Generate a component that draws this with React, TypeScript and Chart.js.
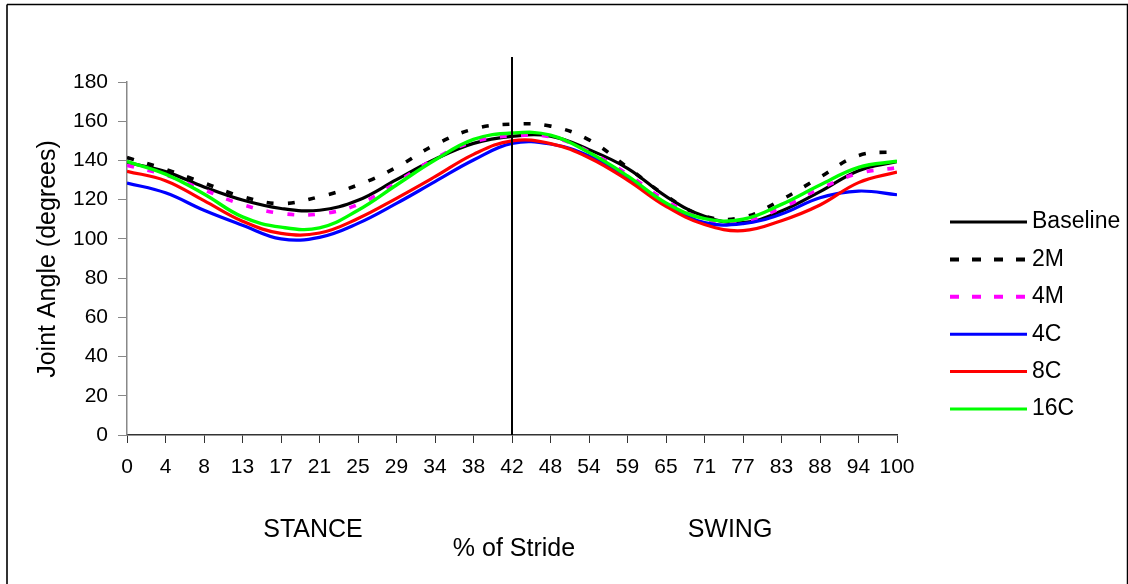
import React, { useEffect, useRef } from "react";
import { Chart, registerables } from "chart.js";

Chart.register(...registerables);

// Stride samples: index 0..100 along the stride, stance = first 50 samples, swing = last 50.
const sampleIndex = [0, 5, 10, 15, 20, 25, 30, 35, 40, 45, 50, 55, 60, 65, 70, 75, 80, 85, 90, 95, 100];
// % of stride shown under every fifth sample
const strideTickLabels = ["0", "4", "8", "13", "17", "21", "25", "29", "34", "38", "42", "48", "54", "59", "65", "71", "77", "83", "88", "94", "100"];
const toeOffIndex = 50;

const baseline = [139, 134.3, 126.5, 119.8, 115.5, 114.6, 119.7, 130.2, 140.6, 148.7, 152.3, 152.4, 145.5, 136, 121.7, 111.5, 108.3, 114.2, 124.1, 134.8, 139.4];
const m2 = [141.5, 135.5, 128.5, 121.5, 118, 121.5, 127.5, 136.5, 148, 156, 158.5, 157.5, 150.5, 136.5, 122, 111.5, 111, 120, 131.5, 142.5, 144.5];
const m4 = [137.5, 132.5, 125, 117.5, 113, 112.7, 117.5, 128.8, 141, 149.5, 152.5, 152, 144.5, 133, 119.5, 110, 109, 115.8, 125.6, 133.4, 136.3];
const c4 = [128.5, 123.5, 114.6, 107, 100, 100.8, 107.9, 118.1, 129.2, 140.2, 148.7, 148.4, 142.3, 131.4, 117.8, 108.3, 107.8, 112.7, 121, 124.4, 122.5];
const c8 = [134.5, 129.7, 119.5, 109, 102.8, 103, 110.4, 120.7, 131.7, 143.1, 150, 148.6, 141.4, 130, 116.6, 107.3, 104.2, 109.3, 117.3, 128.7, 134.1];
const c16 = [139.5, 133, 122.9, 111.2, 106, 105.6, 114.6, 127.5, 140.2, 150.7, 154, 152.9, 144, 132.1, 118.3, 110.3, 110, 117.6, 127.5, 136.5, 139.6];

const seriesNames = ["Baseline", "2M", "4M", "4C", "8C", "16C"];
const seriesValues = [baseline, m2, m4, c4, c8, c16];
const seriesColors = ["#000000", "#000000", "#FF00FF", "#0000FF", "#FF0000", "#00FF00"];
const seriesDash = [[], [7, 14], [7, 14], [], [], []];
const seriesWidth = [3.2, 3.6, 3.6, 3.2, 3.2, 3.4];

const FONT = '"Liberation Sans", Arial, Helvetica, sans-serif';

const decorations = {
  id: "strideDecorations",
  afterDatasetsDraw(chart: any) {
    const { ctx, chartArea, scales } = chart;
    const xDiv = scales.x.getPixelForValue(toeOffIndex);
    ctx.save();
    ctx.strokeStyle = "#000";
    ctx.lineWidth = 2;
    ctx.beginPath();
    ctx.moveTo(xDiv, 57);
    ctx.lineTo(xDiv, chartArea.bottom);
    ctx.stroke();
    ctx.restore();
  },
  afterDraw(chart: any) {
    const { ctx } = chart;
    ctx.save();
    // frame
    ctx.strokeStyle = "#333";
    ctx.lineWidth = 2;
    ctx.beginPath();
    ctx.moveTo(7, 600);
    ctx.lineTo(7, 4.5);
    ctx.stroke();
    ctx.strokeStyle = "#000";
    ctx.lineWidth = 1.5;
    ctx.beginPath();
    ctx.moveTo(7, 4.5);
    ctx.lineTo(1127.5, 4.5);
    ctx.lineTo(1127.5, 600);
    ctx.stroke();

    ctx.fillStyle = "#000";
    ctx.textAlign = "center";
    ctx.textBaseline = "middle";
    ctx.font = `25px ${FONT}`;
    ctx.fillText("STANCE", 313, 530);
    ctx.fillText("SWING", 730, 530);
    ctx.fillText("% of Stride", 514, 549);

    ctx.save();
    ctx.translate(48, 259);
    ctx.rotate(-Math.PI / 2);
    ctx.fillText("Joint Angle (degrees)", 0, 0);
    ctx.restore();

    // legend
    ctx.font = `23px ${FONT}`;
    ctx.textAlign = "left";
    chart.data.datasets.forEach((ds: any, i: number) => {
      const y = 222 + i * 37.4;
      ctx.strokeStyle = ds.borderColor;
      ctx.lineWidth = i === 1 || i === 2 ? 4 : 3;
      ctx.setLineDash(i === 1 || i === 2 ? [9, 13] : []);
      ctx.beginPath();
      ctx.moveTo(950, y);
      ctx.lineTo(1027, y);
      ctx.stroke();
      ctx.setLineDash([]);
      ctx.fillStyle = "#000";
      ctx.fillText(ds.label, 1032, y);
    });
    ctx.restore();
  },
};

export default function App() {
  const canvasRef = useRef<HTMLCanvasElement | null>(null);

  useEffect(() => {
    const canvas = canvasRef.current;
    if (!canvas) return;
    const datasets = seriesNames.map((name, i) => ({
      label: name,
      data: sampleIndex.map((x, k) => ({ x, y: seriesValues[i][k] })),
      borderColor: seriesColors[i],
      backgroundColor: seriesColors[i],
      borderWidth: seriesWidth[i],
      borderDash: seriesDash[i],
      pointRadius: 0,
      tension: 0.4,
      fill: false,
      order: seriesNames.length - 1 - i,
    }));

    const chart = new Chart(canvas, {
      type: "line",
      data: { datasets },
      options: {
        responsive: false,
        animation: false,
        layout: { padding: { left: 0, right: 231, top: 82, bottom: 0 } },
        plugins: { legend: { display: false }, tooltip: { enabled: false } },
        scales: {
          x: {
            type: "linear",
            min: 0,
            max: 100,
            afterFit: (s: any) => {
              s.height = 149;
            },
            grid: { display: true, drawOnChartArea: false, drawTicks: true, tickLength: 8, color: "#333", lineWidth: 1 },
            border: { display: true, color: "#333", width: 1.5 },
            ticks: {
              stepSize: 5,
              autoSkip: false,
              maxRotation: 0,
              padding: 12,
              color: "#000",
              font: { family: FONT, size: 21 },
              callback: (v: any) => {
                const k = Math.round(Number(v) / 5);
                return Number(v) % 5 === 0 ? strideTickLabels[k] : "";
              },
            },
          },
          y: {
            min: 0,
            max: 180,
            afterFit: (s: any) => {
              s.width = 127;
            },
            grid: { display: true, drawOnChartArea: false, drawTicks: true, tickLength: 9, color: "#888", lineWidth: 1 },
            border: { display: true, color: "#888", width: 1.5 },
            ticks: {
              stepSize: 20,
              padding: 10,
              color: "#000",
              font: { family: FONT, size: 21 },
            },
          },
        },
      },
      plugins: [decorations],
    });
    return () => chart.destroy();
  }, []);

  return (
    <div style={{ position: "fixed", left: 0, top: 0, width: 1128, height: 584, background: "#fff" }}>
      <canvas ref={canvasRef} width={1128} height={584} />
    </div>
  );
}
